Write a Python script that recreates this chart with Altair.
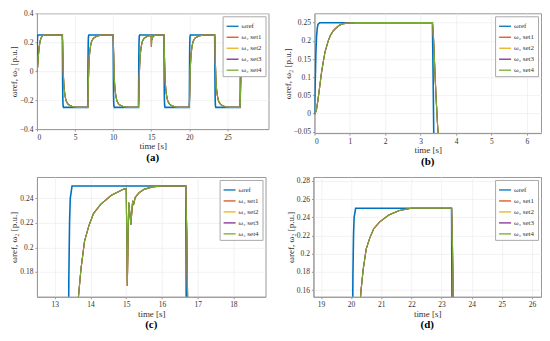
import altair as alt
import pandas as pd

# ---- data ----
series_names = ["ωref", "ω₂ set1", "ω₂ set2", "ω₂ set3", "ω₂ set4"]
series_colors = ["#0072BD", "#D95319", "#EDB120", "#7E2F8E", "#77AC30"]

ref_t = [0, 0.02, 0.04, 0.06, 0.08, 0.10, 0.15,
         3.333, 3.353, 3.373, 3.393, 3.413, 3.433, 3.483,
         6.667, 6.687, 6.707, 6.727, 6.747, 6.767, 6.817,
         10.0, 10.02, 10.04, 10.06, 10.08, 10.10, 10.15,
         13.333, 13.353, 13.373, 13.393, 13.413, 13.433, 13.483,
         16.667, 16.687, 16.707, 16.727, 16.747, 16.767, 16.817,
         20.0, 20.02, 20.04, 20.06, 20.08, 20.10, 20.15,
         23.333, 23.353, 23.373, 23.393, 23.413, 23.433, 23.483,
         26.667, 26.687, 26.707, 26.727, 26.747, 26.767, 26.80]
ref_v = [0, 0.075, 0.1625, 0.2125, 0.235, 0.245, 0.25,
         0.25, 0.10, -0.075, -0.175, -0.22, -0.24, -0.25,
         -0.25, -0.10, 0.075, 0.175, 0.22, 0.24, 0.25,
         0.25, 0.10, -0.075, -0.175, -0.22, -0.24, -0.25,
         -0.25, -0.10, 0.075, 0.175, 0.22, 0.24, 0.25,
         0.25, 0.10, -0.075, -0.175, -0.22, -0.24, -0.25,
         -0.25, -0.10, 0.075, 0.175, 0.22, 0.24, 0.25,
         0.25, 0.10, -0.075, -0.175, -0.22, -0.24, -0.25,
         -0.25, -0.10, 0.075, 0.175, 0.22, 0.24, 0.25]

w2_t = [0, 0.02, 0.06, 0.10, 0.157, 0.20, 0.25, 0.30, 0.39, 0.45, 0.53, 0.62, 0.72, 0.83, 0.95, 1.20,
        3.333, 3.363, 3.393, 3.433, 3.483, 3.533, 3.583, 3.663, 3.733, 3.833, 3.953, 4.083, 4.283, 4.583, 4.933, 5.333,
        6.667, 6.697, 6.727, 6.767, 6.817, 6.867, 6.917, 6.997, 7.067, 7.167, 7.287, 7.417, 7.617, 7.917, 8.267, 8.667,
        10.0, 10.03, 10.06, 10.10, 10.15, 10.20, 10.25, 10.33, 10.40, 10.50, 10.62, 10.75, 10.95, 11.25, 11.60, 12.0,
        13.333, 13.363, 13.393, 13.433, 13.483, 13.533, 13.583, 13.663, 13.733, 13.833, 13.953, 14.083, 14.283, 14.583, 14.933,
        15.0, 15.03, 15.07, 15.10, 15.13, 15.18, 15.21, 15.25, 15.36, 15.50, 15.73, 16.0,
        16.667, 16.697, 16.727, 16.767, 16.817, 16.867, 16.917, 16.997, 17.067, 17.167, 17.287, 17.417, 17.617, 17.917, 18.267, 18.667,
        20.0, 20.03, 20.06, 20.10, 20.15, 20.20, 20.25, 20.33, 20.40, 20.50, 20.62, 20.75, 20.95, 21.25, 21.60, 22.0,
        23.333, 23.363, 23.393, 23.433, 23.483, 23.533, 23.583, 23.663, 23.733, 23.833, 23.953, 24.083, 24.283, 24.583, 24.933, 25.333,
        26.667, 26.697, 26.727, 26.767, 26.80]
w2_v = [0, 0, 0.0125, 0.0375, 0.08, 0.1125, 0.1425, 0.17, 0.20, 0.215, 0.2275, 0.236, 0.244, 0.2475, 0.249, 0.25,
        0.25, 0.21, 0.14, 0.05, -0.04, -0.09, -0.125, -0.16, -0.1825, -0.205, -0.2175, -0.2275, -0.235, -0.2425, -0.2475, -0.25,
        -0.25, -0.21, -0.14, -0.05, 0.04, 0.09, 0.125, 0.16, 0.1825, 0.205, 0.2175, 0.2275, 0.235, 0.2425, 0.2475, 0.25,
        0.25, 0.21, 0.14, 0.05, -0.04, -0.09, -0.125, -0.16, -0.1825, -0.205, -0.2175, -0.2275, -0.235, -0.2425, -0.2475, -0.25,
        -0.25, -0.21, -0.14, -0.05, 0.04, 0.09, 0.125, 0.16, 0.1825, 0.205, 0.2175, 0.2275, 0.235, 0.2425, 0.2475,
        0.248, 0.1686, 0.2365, 0.228, 0.2185, 0.2379, 0.2355, 0.2406, 0.2446, 0.2473, 0.2493, 0.25,
        0.25, 0.21, 0.14, 0.05, -0.04, -0.09, -0.125, -0.16, -0.1825, -0.205, -0.2175, -0.2275, -0.235, -0.2425, -0.2475, -0.25,
        -0.25, -0.21, -0.14, -0.05, 0.04, 0.09, 0.125, 0.16, 0.1825, 0.205, 0.2175, 0.2275, 0.235, 0.2425, 0.2475, 0.25,
        0.25, 0.21, 0.14, 0.05, -0.04, -0.09, -0.125, -0.16, -0.1825, -0.205, -0.2175, -0.2275, -0.235, -0.2425, -0.2475, -0.25,
        -0.25, -0.21, -0.14, -0.05, 0.0]

# panel axis settings
xdom_a, xticks_a, ydom_a, yticks_a = [0, 30.4], [0, 5, 10, 15, 20, 25], [-0.4, 0.4], [-0.4, -0.2, 0, 0.2, 0.4]
xdom_b, xticks_b, ydom_b, yticks_b = [0, 6.4], [0, 1, 2, 3, 4, 5, 6], [-0.0536, 0.2758], [-0.05, 0, 0.05, 0.1, 0.15, 0.2, 0.25]
xdom_c, xticks_c, ydom_c, yticks_c = [12.5, 18.9], [13, 14, 15, 16, 17, 18], [0.1597, 0.2574], [0.18, 0.2, 0.22, 0.24]
xdom_d, xticks_d, ydom_d, yticks_d = [18.75, 26.3], [19, 20, 21, 22, 23, 24, 25, 26], [0.1527, 0.2844], [0.16, 0.18, 0.2, 0.22, 0.24, 0.26, 0.28]

rows = []
for t, v in zip(ref_t, ref_v):
    rows.append({"t": t, "v": v, "s": series_names[0]})
for name in series_names[1:]:
    for t, v in zip(w2_t, w2_v):
        rows.append({"t": t, "v": v, "s": name})
df = pd.DataFrame(rows)

FONT = "Liberation Serif, Times New Roman, serif"


def panel(xdom, xticks, ydom, yticks, w, h, caption):
    color = alt.Color(
        "s:N",
        scale=alt.Scale(domain=series_names, range=series_colors),
        legend=alt.Legend(
            title=None, orient="top-right", offset=3, padding=3, rowPadding=1,
            symbolType="stroke", symbolSize=144, symbolStrokeWidth=1.3,
            labelFont=FONT, labelFontSize=7, labelColor="#333", labelOffset=2,
            strokeColor="#aaa", fillColor="white", cornerRadius=0,
        ),
    )
    x = alt.X("t:Q", scale=alt.Scale(domain=xdom, nice=False, zero=False),
              axis=alt.Axis(values=xticks, title="time [s]", format="~g"))
    y = alt.Y("v:Q", scale=alt.Scale(domain=ydom, nice=False, zero=False),
              axis=alt.Axis(values=yticks, title="ωref, ω₂ [p.u.]", format="~g"))
    layers = []
    for k, name in enumerate(series_names):
        layers.append(
            alt.Chart(df)
            .transform_filter(alt.datum.s == name)
            .mark_line(clip=True, strokeWidth=1.6 if k == 0 else 1.1)
            .encode(x=x, y=y, color=color)
        )
    return alt.layer(*layers).properties(
        width=w, height=h,
        title=alt.TitleParams(caption, orient="bottom", font=FONT, fontSize=11,
                              fontWeight="bold", offset=1, anchor="middle", color="#000"),
    )


A = panel(xdom_a, xticks_a, ydom_a, yticks_a, 232, 116, "(a)")
B = panel(xdom_b, xticks_b, ydom_b, yticks_b, 227, 120, "(b)")
C = panel(xdom_c, xticks_c, ydom_c, yticks_c, 229, 120, "(c)")
D = panel(xdom_d, xticks_d, ydom_d, yticks_d, 228, 120, "(d)")

top = alt.hconcat(A, B, spacing=13).resolve_scale(color="independent").resolve_legend(color="independent")
bottom = alt.hconcat(C, D, spacing=19).resolve_scale(color="independent").resolve_legend(color="independent")

chart = (
    alt.vconcat(top, bottom, spacing=9)
    .resolve_scale(color="independent")
    .resolve_legend(color="independent")
    .properties(padding={"left": 0, "top": 0, "right": 0, "bottom": 0})
    .configure_axis(
        labelFont=FONT, titleFont=FONT, labelFontSize=7.5, titleFontSize=9,
        titleFontWeight="normal", labelColor="#333", titleColor="#333",
        domainColor="#999", tickColor="#999", tickSize=2, labelPadding=2, titlePadding=1,
        gridColor="#ececec", gridWidth=0.7,
    )
    .configure_view(stroke="#999", strokeWidth=1)
)

chart.save("out.html", embed_options={"renderer": "svg", "actions": False})
